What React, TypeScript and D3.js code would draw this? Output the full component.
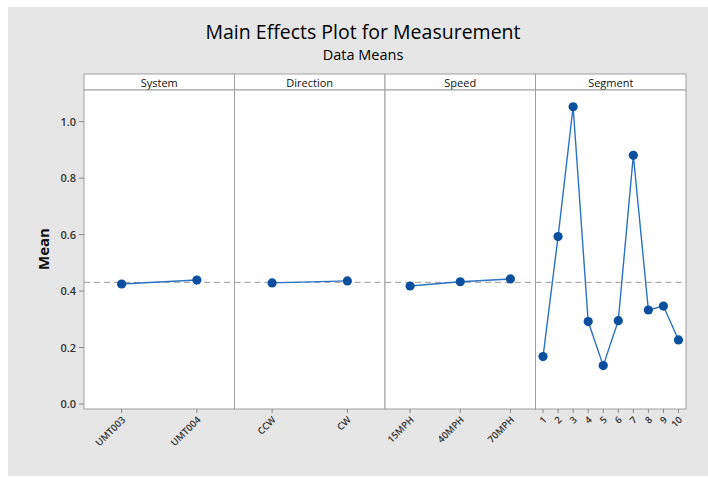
import { useEffect } from "react"
import * as d3 from "d3"

const SYSTEM = ["UMT003", "UMT004"]
const SYSTEM_MEANS = [0.425, 0.439]
const DIRECTION = ["CCW", "CW"]
const DIRECTION_MEANS = [0.429, 0.436]
const SPEED = ["15MPH", "40MPH", "70MPH"]
const SPEED_MEANS = [0.418, 0.433, 0.443]
const SEGMENT = ["1", "2", "3", "4", "5", "6", "7", "8", "9", "10"]
const SEGMENT_MEANS = [0.168, 0.593, 1.053, 0.292, 0.136, 0.295, 0.881, 0.333, 0.347, 0.227]
const GRAND_MEAN = 0.431
const Y_TICKS = [0, 0.2, 0.4, 0.6, 0.8, 1.0]

const PANELS = [
  { name: "System", levels: SYSTEM, means: SYSTEM_MEANS },
  { name: "Direction", levels: DIRECTION, means: DIRECTION_MEANS },
  { name: "Speed", levels: SPEED, means: SPEED_MEANS },
  { name: "Segment", levels: SEGMENT, means: SEGMENT_MEANS },
]

const FONT = "'Open Sans', 'Noto Sans', sans-serif"
const LINE = "#2a72c4"
const DOT = "#0b4f9e"
const BORDER = "#a0a0a0"

export default function App() {
  useEffect(() => {
    document.body.style.margin = "0"
  }, [])

  const W = 708
  const H = 478
  const left = 84
  const right = 686
  const stripTop = 74
  const top = 90
  const bottom = 409
  const panelW = (right - left) / PANELS.length

  // 0.0 sits at y=404, 1.0 at y=121.7
  const y = d3.scaleLinear().domain([0, 1]).range([404, 121.7])

  return (
    <svg width={W} height={H} style={{ display: "block", fontFamily: FONT }}>
      <rect x={0} y={0} width={W} height={H} fill="#ffffff" />
      <rect x={8} y={7} width={W - 8} height={469} fill="#e6e6e6" />

      <text x={363} y={39} textAnchor="middle" fontSize={19.5} fontWeight={500} fill="#000">
        Main Effects Plot for Measurement
      </text>
      <text x={363} y={60} textAnchor="middle" fontSize={14.5} fontWeight={500} fill="#000">
        Data Means
      </text>

      <text
        transform={`translate(49, 249) rotate(-90)`}
        textAnchor="middle"
        fontSize={15}
        fontWeight="bold"
        fill="#111"
      >
        Mean
      </text>

      {/* y axis */}
      {Y_TICKS.map((t) => (
        <g key={t}>
          <line x1={79} x2={84} y1={y(t)} y2={y(t)} stroke="#888" />
          <text x={76} y={y(t) + 4} textAnchor="end" fontSize={11} fontWeight={600} fill="#333">
            {d3.format(".1f")(t)}
          </text>
        </g>
      ))}

      {PANELS.map((p, i) => {
        const x0 = left + i * panelW
        const x = d3.scalePoint<string>().domain(p.levels).range([x0, x0 + panelW]).padding(0.5)
        const line = d3
          .line<number>()
          .x((_, j) => x(p.levels[j]) ?? 0)
          .y((d) => y(d))
        return (
          <g key={p.name}>
            <rect x={x0} y={stripTop} width={panelW} height={top - stripTop} fill="#fff" stroke={BORDER} />
            <text x={x0 + panelW / 2} y={top - 3} textAnchor="middle" fontSize={11} fontWeight={500} fill="#111">
              {p.name}
            </text>
            <rect x={x0} y={top} width={panelW} height={bottom - top} fill="#fff" stroke={BORDER} />
            <line
              x1={x0}
              x2={x0 + panelW}
              y1={y(GRAND_MEAN)}
              y2={y(GRAND_MEAN)}
              stroke="#999"
              strokeDasharray="6,4"
            />
            <path d={line(p.means) ?? ""} fill="none" stroke={LINE} strokeWidth={1.4} />
            {p.means.map((m, j) => (
              <circle key={j} cx={x(p.levels[j])} cy={y(m)} r={4.6} fill={DOT} />
            ))}
            {p.levels.map((l) => (
              <g key={l}>
                <line x1={x(l)} x2={x(l)} y1={bottom} y2={bottom + 4} stroke="#888" />
                <text
                  transform={`translate(${(x(l) ?? 0) + 2}, ${bottom + 9}) rotate(-45)`}
                  textAnchor="end"
                  dy="0.35em"
                  fontSize={9.5}
                  fontWeight={600}
                  fill="#333"
                >
                  {l}
                </text>
              </g>
            ))}
          </g>
        )
      })}
    </svg>
  )
}
